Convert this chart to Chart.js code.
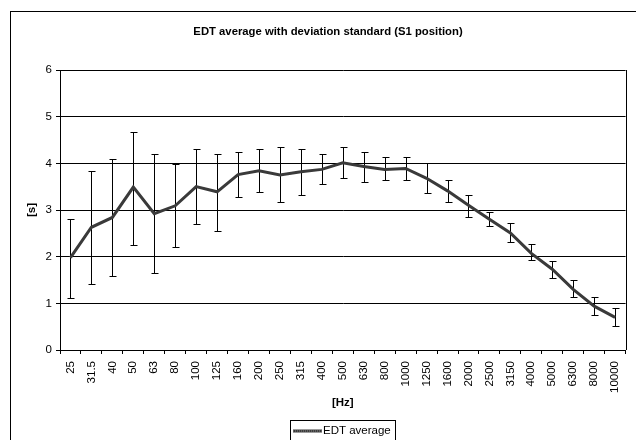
<!DOCTYPE html>
<html>
<head>
    <title>EDT average with deviation standard</title>
    <meta charset="UTF-8">
    <style>
        html, body { margin: 0; padding: 0; background: #fff; overflow: hidden; }
        #wrap { position: relative; width: 636px; height: 440px; }
    </style>
    <script src="https://cdn.jsdelivr.net/npm/chart.js@4.4.1/dist/chart.umd.min.js"></script>
</head>
<body>
    <div id="wrap"><canvas id="edt-chart" width="636" height="440"></canvas></div>

    <script>
        // octave / third-octave bands [Hz]
        const bands = ['25', '31.5', '40', '50', '63', '80', '100', '125', '160', '200', '250', '315', '400',
            '500', '630', '800', '1000', '1250', '1600', '2000', '2500', '3150', '4000', '5000', '6300', '8000', '10000'];

        // EDT average [s]
        const edtAverage = [1.98, 2.63, 2.84, 3.49, 2.92, 3.09, 3.50, 3.39, 3.76, 3.84, 3.75, 3.82, 3.87,
            4.01, 3.93, 3.87, 3.89, 3.68, 3.41, 3.10, 2.80, 2.51, 2.07, 1.73, 1.30, 0.94, 0.70];

        // average + / - standard deviation [s]
        const edtHigh = [2.81, 3.84, 4.10, 4.67, 4.21, 3.99, 4.31, 4.21, 4.25, 4.31, 4.36, 4.30, 4.21,
            4.36, 4.24, 4.13, 4.14, 4.00, 3.65, 3.33, 2.95, 2.73, 2.27, 1.91, 1.49, 1.14, 0.90];
        const edtLow = [1.11, 1.41, 1.59, 2.24, 1.64, 2.21, 2.69, 2.55, 3.28, 3.39, 3.17, 3.33, 3.56,
            3.69, 3.61, 3.64, 3.64, 3.36, 3.18, 2.86, 2.66, 2.31, 1.93, 1.54, 1.14, 0.75, 0.51];

        const yTicks = [0, 1, 2, 3, 4, 5, 6];

        const FONT = 'Arial, "Liberation Sans", sans-serif';
        Chart.defaults.font.family = FONT;
        Chart.defaults.color = '#000';

        const LINE_DARK = '#3a3a3a';
        const LINE_DOTS = '#8a8a8a';

        // error bars, drawn under the line
        const errorBars = {
            id: 'errorBars',
            beforeDatasetsDraw(chart) {
                const { ctx, scales: { x, y } } = chart;
                ctx.save();
                ctx.strokeStyle = '#000';
                ctx.lineWidth = 1;
                bands.forEach((b, i) => {
                    const px = Math.round(x.getPixelForValue(i)) + 0.5;
                    const top = Math.round(y.getPixelForValue(edtHigh[i])) + 0.5;
                    const bot = Math.round(y.getPixelForValue(edtLow[i])) + 0.5;
                    ctx.beginPath();
                    ctx.moveTo(px, top); ctx.lineTo(px, bot);
                    ctx.moveTo(px - 3, top); ctx.lineTo(px + 4, top);
                    ctx.moveTo(px - 3, bot); ctx.lineTo(px + 4, bot);
                    ctx.stroke();
                });
                ctx.restore();
            }
        };

        // outer frame, plot border, title and the boxed legend
        const frame = {
            id: 'frame',
            beforeDraw(chart) {
                const ctx = chart.ctx;
                ctx.save();
                ctx.fillStyle = '#fff';
                ctx.fillRect(0, 0, chart.width, chart.height);
                ctx.strokeStyle = '#000';
                ctx.lineWidth = 1;
                ctx.strokeRect(10.5, 11.5, 700, 500);
                ctx.restore();
            },
            afterDraw(chart) {
                const { ctx, chartArea: a } = chart;
                ctx.save();
                ctx.strokeStyle = '#000';
                ctx.lineWidth = 1;
                ctx.beginPath();
                ctx.moveTo(Math.round(a.right) + 0.5, a.top);
                ctx.lineTo(Math.round(a.right) + 0.5, a.bottom);
                ctx.stroke();

                ctx.fillStyle = '#000';
                ctx.font = 'bold 11.3px ' + FONT;
                ctx.textAlign = 'center';
                ctx.textBaseline = 'middle';
                ctx.fillText('EDT average with deviation standard (S1 position)', 328, 32);

                // legend
                ctx.strokeRect(290.5, 420.5, 105, 40);
                ctx.lineWidth = 3;
                ctx.strokeStyle = LINE_DARK;
                ctx.beginPath(); ctx.moveTo(293, 431); ctx.lineTo(322, 431); ctx.stroke();
                ctx.lineWidth = 1;
                ctx.strokeStyle = LINE_DOTS;
                ctx.setLineDash([1, 1]);
                ctx.beginPath(); ctx.moveTo(293, 431); ctx.lineTo(322, 431); ctx.stroke();
                ctx.setLineDash([]);
                ctx.font = '11.5px ' + FONT;
                ctx.textAlign = 'left';
                ctx.fillText(chart.data.datasets[0].label, 323, 431);
                ctx.restore();
            }
        };

        const ctx = document.getElementById('edt-chart').getContext('2d');
        const edtChart = new Chart(ctx, {
            type: 'line',
            data: {
                labels: bands,
                datasets: [{
                    label: 'EDT average',
                    data: edtAverage,
                    borderColor: LINE_DARK,
                    borderWidth: 3,
                    pointRadius: 0,
                    tension: 0
                }, {
                    // dotted texture on top of the thick line
                    label: 'texture',
                    data: edtAverage,
                    borderColor: LINE_DOTS,
                    borderWidth: 1,
                    borderDash: [1, 1],
                    pointRadius: 0,
                    tension: 0
                }]
            },
            options: {
                responsive: false,
                animation: false,
                layout: { padding: { left: 10, top: 70, right: 5, bottom: 0 } },
                plugins: {
                    legend: { display: false },
                    title: { display: false },
                    tooltip: { enabled: false }
                },
                scales: {
                    x: {
                        type: 'category',
                        offset: true,
                        afterFit(scale) { scale.height = 90; },
                        grid: { offset: true, drawOnChartArea: false, drawTicks: true, tickLength: 4, color: '#000' },
                        border: { display: true, color: '#000' },
                        ticks: { autoSkip: false, maxRotation: 90, minRotation: 90, padding: 7, font: { size: 11.5 } },
                        title: { display: true, text: '[Hz]', font: { size: 11.5, weight: 'bold' }, padding: { top: 0, bottom: 30 } }
                    },
                    y: {
                        min: 0,
                        max: 6,
                        afterFit(scale) { scale.width = 50; },
                        afterBuildTicks(scale) { scale.ticks = yTicks.map(v => ({ value: v })); },
                        grid: { color: '#000', tickLength: 4 },
                        border: { display: true, color: '#000' },
                        ticks: { padding: 4, font: { size: 11.5 } },
                        title: { display: true, text: '[s]', font: { size: 11.5, weight: 'bold' }, padding: { top: 15, bottom: 0 } }
                    }
                }
            },
            plugins: [errorBars, frame]
        });
    </script>
</body>
</html>
